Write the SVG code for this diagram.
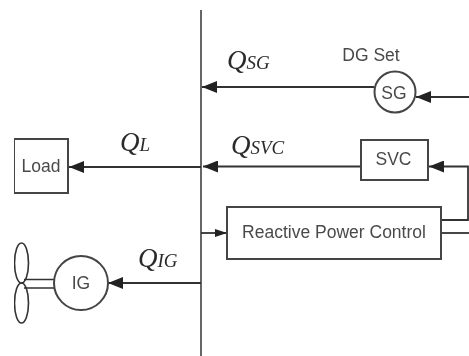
<svg xmlns="http://www.w3.org/2000/svg" width="469" height="356" viewBox="0 0 469 356">
<defs>
<marker id="a" markerUnits="userSpaceOnUse" markerWidth="15" markerHeight="12" refX="15" refY="6" orient="auto"><path d="M0 0L15 6L0 12Z" fill="#222"/></marker>
<marker id="s" markerUnits="userSpaceOnUse" markerWidth="12" markerHeight="8" refX="12" refY="4" orient="auto"><path d="M0 0L12 4L0 8Z" fill="#222"/></marker>
<filter id="soft" x="0" y="0" width="100%" height="100%"><feGaussianBlur stdDeviation="0.45"/></filter>
</defs>
<style>
.l{fill:none;stroke:#333;stroke-width:1.800}
.v{fill:none;stroke:#555;stroke-width:1.800}
.b{fill:#fff;stroke:#444;stroke-width:2}
.t{font-family:"Liberation Sans",Arial,sans-serif;fill:#4a4a4a;font-size:17.500px}
.q{font-family:"Liberation Serif","Times New Roman",serif;font-style:italic;fill:#2a2a2a;font-size:27px}
.q tspan{font-size:19px}
</style>
<rect width="469" height="356" fill="#fff"/>
<g filter="url(#soft)">
<g id="connectors">
<path class="v" d="M201 10V356"/>
<path class="l" d="M374 87H202" marker-end="url(#a)"/>
<path class="l" d="M469 97H416" marker-end="url(#a)"/>
<path class="l" d="M361 166.500H203" marker-end="url(#a)"/>
<path class="l" d="M201 167H69" marker-end="url(#a)"/>
<path class="l" d="M441 220H468V166.500H429" marker-end="url(#a)"/>
<path class="l" d="M201 233H227" marker-end="url(#s)"/>
<path class="l" d="M441 233H469"/>
<path class="l" d="M201 283H108" marker-end="url(#a)"/>
<path class="l" style="stroke-width:1.400" d="M24 279.500H54M24 288H54"/>
</g>
<g id="node-sg"><circle class="b" cx="395" cy="92" r="20.500"/><text class="t" x="394" y="98.500" text-anchor="middle">SG</text></g>
<text id="dg-set" class="t" x="371" y="61" text-anchor="middle">DG Set</text>
<g id="node-svc"><rect class="b" x="361" y="140" width="67" height="40"/><text class="t" x="393.500" y="165" text-anchor="middle">SVC</text></g>
<g id="node-rpc"><rect class="b" x="227" y="207" width="214" height="52"/><text class="t" x="334" y="238" text-anchor="middle">Reactive Power Control</text></g>
<g id="node-load"><rect class="b" x="14" y="139" width="54" height="54"/><text class="t" x="41" y="172" text-anchor="middle">Load</text></g>
<g id="node-ig"><circle class="b" cx="81" cy="283" r="27"/><text class="t" x="81" y="288.500" text-anchor="middle">IG</text></g>
<g id="node-turbine"><ellipse class="l" style="stroke-width:1.600" cx="21.500" cy="263" rx="7" ry="20"/><ellipse class="l" style="stroke-width:1.600" cx="21.500" cy="303" rx="7" ry="20"/></g>
<text class="q" x="227" y="69">Q<tspan>SG</tspan></text>
<text class="q" x="231" y="154">Q<tspan>SVC</tspan></text>
<text class="q" x="120" y="151">Q<tspan>L</tspan></text>
<text class="q" x="138" y="267">Q<tspan>IG</tspan></text>
</g>
</svg>
